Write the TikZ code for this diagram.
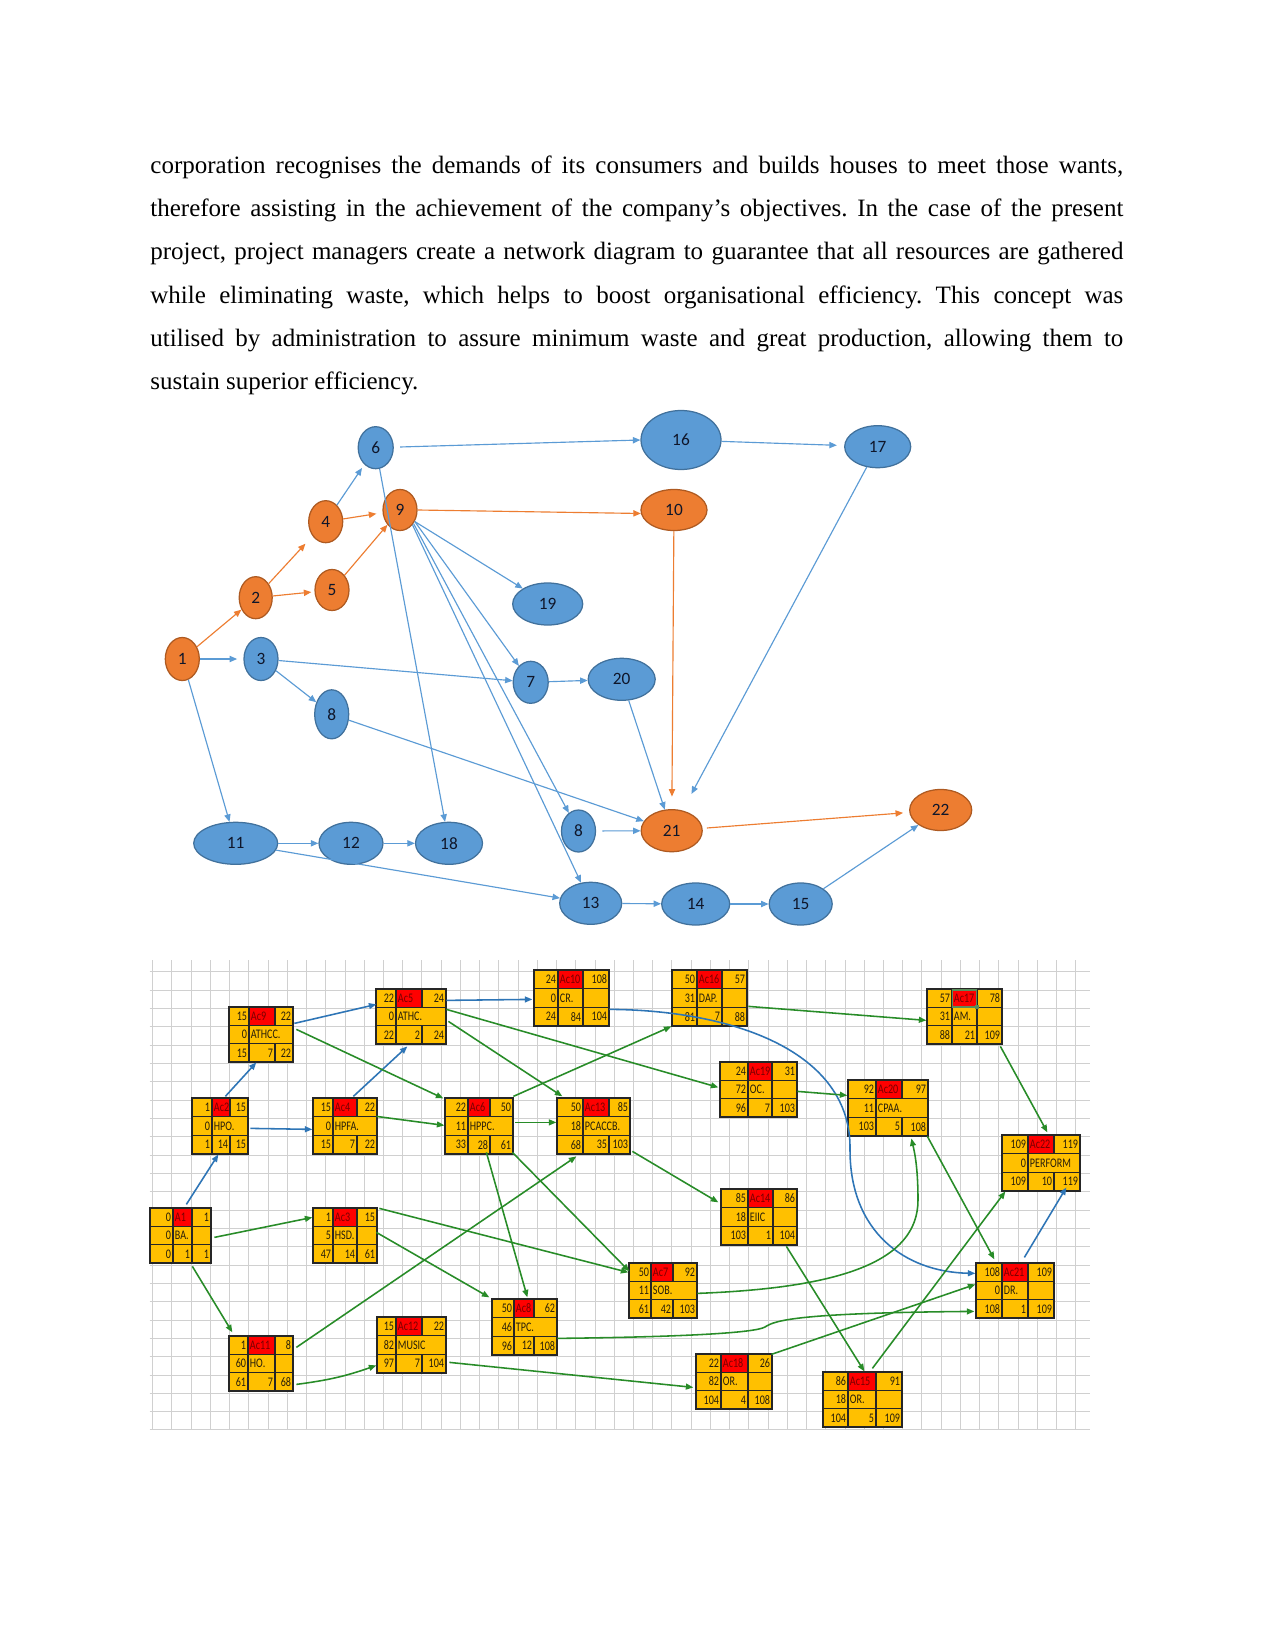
\documentclass[tikz,border=0pt]{standalone}
\usepackage{fontspec}
\usepackage{graphicx}
\setmainfont{Liberation Serif}
\newfontfamily\calib{Carlito}
\usetikzlibrary{shapes.geometric,arrows.meta,fit,calc}
\definecolor{nbf}{RGB}{91,155,213}
\definecolor{nbb}{RGB}{65,113,156}
\definecolor{nof}{RGB}{237,125,49}
\definecolor{nob}{RGB}{174,90,33}
\definecolor{ntext}{RGB}{15,22,42}
\definecolor{eblue}{RGB}{91,155,213}
\definecolor{eorange}{RGB}{237,125,49}
\definecolor{gblue}{RGB}{46,117,182}
\definecolor{ggreen}{RGB}{40,140,40}
\definecolor{cellfill}{RGB}{255,192,0}
\definecolor{cellred}{RGB}{255,0,0}
\definecolor{celltext}{RGB}{40,30,10}
\definecolor{redtext}{RGB}{120,0,0}
\definecolor{gridc}{RGB}{208,208,208}
\definecolor{selc}{RGB}{90,140,90}
\newcommand\netf{\fontsize{8.3}{9}\calib}
\newcommand\cellf{\fontsize{6.3}{7}\calib}
\newcommand\sq[1]{\scalebox{0.77}[1]{#1}}
\tikzset{
  sz/.style 2 args={minimum width=#1*0.48pt, minimum height=#2*0.48pt},
  nb/.style={ellipse, draw=nbb, fill=nbf, line width=0.6pt, inner sep=0pt, font=\netf, text=ntext},
  no/.style={ellipse, draw=nob, fill=nof, line width=0.6pt, inner sep=0pt, font=\netf, text=ntext},
  eb/.style={draw=eblue, line width=0.55pt, -{Triangle[length=3.6pt,width=3pt]}},
  eo/.style={draw=eorange, line width=0.55pt, -{Triangle[length=3.6pt,width=3pt]}},
  gridl/.style={draw=gridc, line width=0.45pt},
  cellline/.style={draw=black!85, line width=0.6pt},
  nr/.style={anchor=east, inner sep=0pt, font=\cellf, text=celltext},
  nl/.style={anchor=west, inner sep=0pt, font=\cellf, text=celltext},
  nred/.style={anchor=west, inner sep=0pt, font=\cellf, text=redtext},
  ga/.style={draw=ggreen, line width=0.75pt, -{Triangle[length=3.6pt,width=2.8pt]}},
  ba/.style={draw=gblue, line width=0.75pt, -{Triangle[length=3.6pt,width=2.8pt]}},
  para/.style={anchor=base west, inner sep=0pt, font=\fontsize{12}{14}\selectfont\frenchspacing}
}
% box geometry: name, x0, c1, c2, x3, y0, y3, split middle row (1/0)
\newcommand\abox[8]{%
  \def\xa{#2}\def\xb{#3}\def\xc{#4}\def\xd{#5}\def\ya{#6}\def\yd{#7}%
  \pgfmathsetmacro\ra{#6+(#7-#6)/3}%
  \pgfmathsetmacro\rb{#6+2*(#7-#6)/3}%
  \fill[cellfill] (#2,#6) rectangle (#5,#7);
  \fill[cellred] (#3,#6) rectangle (#4,\ra);
  \draw[cellline] (#2,\ra) -- (#5,\ra) (#2,\rb) -- (#5,\rb) (#3,#6) -- (#3,#7)
        (#4,#6) -- (#4,\ra) (#4,\rb) -- (#4,#7);
  \ifnum#8=1 \draw[cellline] (#4,\ra) -- (#4,\rb);\fi
  \node[fit={(#2,#6) (#5,#7)}, inner sep=0pt, cellline] (#1) {};
}
% texts: TL TM TR ML MM BL BM BR
\newcommand\atx[8]{%
  \pgfmathsetmacro\ma{(\ya+\ra)/2}%
  \pgfmathsetmacro\mb{(\ra+\rb)/2}%
  \pgfmathsetmacro\mc{(\rb+\yd)/2}%
  \node[nr] at ({\xb-1.5},\ma) {\sq{#1}};
  \node[nred] at ({\xb+1.5},\ma) {\sq{#2}};
  \node[nr] at ({\xd-1.5},\ma) {\sq{#3}};
  \node[nr] at ({\xb-1.5},\mb) {\sq{#4}};
  \node[nl] at ({\xb+1.5},\mb) {\sq{#5}};
  \node[nr] at ({\xb-1.5},\mc) {\sq{#6}};
  \node[nr] at ({\xc-1.5},\mc) {\sq{#7}};
  \node[nr] at ({\xd-1.5},\mc) {\sq{#8}};
}
\begin{document}
\begin{tikzpicture}[x=0.48pt,y=-0.48pt]
\useasboundingbox[fill=white] (0,0) rectangle (1275,1651);

% ---------- paragraph ----------
\node[para] (t1) at (150,173.7) {\makebox[467pt][s]{corporation recognises the demands of its consumers and builds houses to meet those wants,}};
\node[para] (t2) at (150,216.8) {\makebox[467pt][s]{therefore assisting in the achievement of the company's objectives. In the case of the present}};
\node[para] (t3) at (150,259.9) {\makebox[467pt][s]{project, project managers create a network diagram to guarantee that all resources are gathered}};
\node[para] (t4) at (150,303) {\makebox[467pt][s]{while eliminating waste, which helps to boost organisational efficiency. This concept was}};
\node[para] (t5) at (150,346.1) {\makebox[467pt][s]{utilised by administration to assure minimum waste and great production, allowing them to}};
\node[para] (t6) at (150,389) {sustain superior efficiency.};

% ---------- network diagram ----------
\node[no, sz={34}{43}] (n1) at (182.3,659) {1};
\node[no, sz={33}{42}] (n2) at (255.7,597.7) {2};
\node[nb, sz={34}{43}] (n3) at (261,659) {3};
\node[no, sz={34}{42}] (n4) at (325.7,521.7) {4};
\node[no, sz={34}{41}] (n5) at (332,590) {5};
\node[nb, sz={35}{42}] (n6) at (375.7,447.7) {6};
\node[no, sz={34}{41}] (n9) at (400,510) {9};
\node[nb, sz={80}{59}] (n16) at (681,440) {16};
\node[no, sz={66}{41}] (n10) at (674,510) {10};
\node[nb, sz={66}{42}] (n17) at (877.7,446.7) {17};
\node[nb, sz={70}{42}] (n19) at (547.7,604) {19};
\node[nb, sz={35}{42}] (n7) at (530.7,682.3) {7};
\node[nb, sz={67}{42}] (n20) at (621.7,679.3) {20};
\node[nb, sz={34}{49}] (n8a) at (331.7,714.3) {8};
\node[nb, sz={84}{42}] (n11) at (235.7,843.3) {11};
\node[nb, sz={64}{42}] (n12) at (351,843.3) {12};
\node[nb, sz={67}{42}] (n18) at (449,843.3) {18};
\node[nb, sz={34}{42}] (n8b) at (578.5,831) {8};
\node[no, sz={61}{42}] (n21) at (671.7,830.7) {21};
\node[no, sz={62}{41}] (n22) at (940.7,810) {22};
\node[nb, sz={62}{42}] (n13) at (590.7,903.3) {13};
\node[nb, sz={68}{42}] (n14) at (695.7,904) {14};
\node[nb, sz={63}{42}] (n15) at (800.7,904) {15};

\draw[eo] (n1) -- (n2);
\draw[eo, shorten >=5pt] (n2) -- (n4);
\draw[eo, shorten >=1.5pt] (n2) -- (n5);
\draw[eo, shorten >=3pt] (n4) -- (n9);
\draw[eo] (n5) -- (n9);
\draw[eo] (n9.east) -- (n10.186);
\draw[eo, shorten >=6pt] (n10) -- (n21);
\draw[eo, shorten <=2pt, shorten >=3pt] (n21) -- (n22);

\draw[eb, shorten >=3pt] (n1) -- (n3);
\draw[eb] (n1) -- (n11);
\draw[eb, shorten >=2pt] (n4) -- (n6);
\draw[eb, shorten <=3pt] (n6) -- (n16.west);
\draw[eb] (n6) -- (n18);
\draw[eb, shorten >=3.5pt] (n16) -- (n17);
\draw[eb, shorten >=9pt] (n17) -- (n21);
\draw[eb] (n9.-38) -- (n19);
\draw[eb] (n9.-38) -- (n7);
\draw[eb] (n9.-45) -- (n8b);
\draw[eb] (n9.-50) -- (n13);
\draw[eb] (n3) -- (n7);
\draw[eb] (n3) -- (n8a);
\draw[eb] (n8a) -- (n21);
\draw[eb] (n7) -- (n20);
\draw[eb] (n20) -- (n21);
\draw[eb, shorten <=3pt] (n8b) -- (n21);
\draw[eb] (n11) -- (n12);
\draw[eb] (n12) -- (n18);
\draw[eb] (n11) -- (n13);
\draw[eb] (n13) -- (n14);
\draw[eb] (n14) -- (n15);
\draw[eb] (n15) -- (n22);

% ---------- grid ----------
\foreach \i in {0,...,48} \draw[gridl] ({152.7+\i*19.23},960) -- ({152.7+\i*19.23},1430);
\foreach \j in {0,...,25} \draw[gridl] (149.5,{971.7+\j*18.33}) -- (1090,{971.7+\j*18.33});

% ---------- activity boxes ----------
\abox{a1}{150}{173}{192}{211}{1208}{1263}{1}\atx{0}{A1}{1}{0}{BA.}{0}{1}{1}
\abox{ac2}{192}{212}{230}{248}{1098}{1154}{0}\atx{1}{Ac2}{15}{0}{HPO.}{1}{14}{15}
\abox{ac9}{229}{249}{275}{293}{1007}{1062}{0}\atx{15}{Ac9}{22}{0}{ATHCC.}{15}{7}{22}
\abox{ac4}{313}{333}{357}{377}{1098}{1154}{0}\atx{15}{Ac4}{22}{0}{HPFA.}{15}{7}{22}
\abox{ac3}{313}{333}{357}{377}{1208}{1263}{1}\atx{1}{Ac3}{15}{5}{HSD.}{47}{14}{61}
\abox{ac5}{376}{396}{422}{446}{989}{1044}{0}\atx{22}{Ac5}{24}{0}{ATHC.}{22}{2}{24}
\abox{ac11}{229}{248}{275}{293}{1336}{1391}{1}\atx{1}{Ac11}{8}{60}{HO.}{61}{7}{68}
\abox{ac12}{377}{396}{422}{446}{1317}{1373}{0}\atx{15}{Ac12}{22}{82}{MUSIC}{97}{7}{104}
\abox{ac6}{445}{468}{490}{513}{1098}{1154}{0}\atx{22}{Ac6}{50}{11}{HPPC.}{33}{28}{61}
\abox{ac8}{492}{514}{534}{557}{1299}{1355}{0}\atx{50}{Ac8}{62}{46}{TPC.}{96}{12}{108}
\abox{ac10}{534}{558}{583}{609}{970}{1026}{1}\atx{24}{Ac10}{108}{0}{CR.}{24}{84}{104}
\abox{ac13}{557}{583}{609}{630}{1098}{1154}{0}\atx{50}{Ac13}{85}{18}{PCACCB.}{68}{35}{103}
\abox{ac7}{629}{651}{673}{697}{1263}{1318}{0}\atx{50}{Ac7}{92}{11}{SOB.}{61}{42}{103}
\abox{ac16}{672}{697}{722}{747}{970}{1026}{1}\atx{50}{Ac16}{57}{31}{DAP.}{81}{7}{88}
\abox{ac19}{720}{748}{772}{797}{1062}{1117}{1}\atx{24}{Ac19}{31}{72}{OC.}{96}{7}{103}
\abox{ac14}{721}{748}{773}{797}{1189}{1245}{1}\atx{85}{Ac14}{86}{18}{EIIC}{103}{1}{104}
\abox{ac18}{696}{721}{748}{772}{1354}{1409}{1}\atx{22}{Ac18}{26}{82}{OR.}{104}{4}{108}
\abox{ac20}{848}{876}{902}{928}{1080}{1136}{0}\atx{92}{Ac20}{97}{11}{CPAA.}{103}{5}{108}
\abox{ac15}{823}{848}{876}{902}{1372}{1427}{1}\atx{86}{Ac15}{91}{18}{OR.}{104}{5}{109}
\abox{ac17}{927}{952}{977}{1002}{989}{1044}{1}\atx{57}{Ac17}{78}{31}{AM.}{88}{21}{109}
\abox{ac22}{1002}{1028}{1054}{1080}{1135}{1191}{0}\atx{109}{Ac22}{119}{0}{PERFORM}{109}{10}{119}
\abox{ac21}{976}{1002}{1028}{1054}{1263}{1318}{1}\atx{108}{Ac21}{109}{0}{DR.}{108}{1}{109}
% selected cell outline
\draw[draw=selc, line width=0.7pt] (952.5,990) rectangle (976.5,1007);
\fill[selc] (975,1005) rectangle (979,1009);

% ---------- blue connectors ----------
\draw[ba] ($(a1.north west)+(37,-3)$) -- ($(ac2.north west)+(27,57)$);
\draw[ba] ($(ac2.north west)+(34,-1)$) -- ($(ac9.north west)+(28,56)$);
\draw[ba] ($(ac2.north west)+(59,31)$) -- ($(ac4.north west)+(0,32)$);
\draw[ba] ($(ac4.north west)+(41,-1)$) -- ($(ac5.north west)+(32,58)$);
\draw[ba] ($(ac9.north west)+(66,17)$) -- ($(ac5.north west)+(1,16)$);
\draw[ba] ($(ac5.north west)+(71,12)$) -- ($(ac10.north west)+(-1,30)$);
\draw[ba] ($(ac10.north west)+(76,40)$) .. controls (730,1010) and (852,1050) .. (850,1150)
          .. controls (850,1232) and (905,1272) .. ($(ac21.north west)+(0,11)$);
\draw[ba] ($(ac21.north west)+(49,-5)$) -- ($(ac22.north west)+(65,53)$);

% ---------- green connectors ----------
\draw[ga] ($(a1.north west)+(65,30)$) -- ($(ac3.north west)+(0,10)$);
\draw[ga] ($(a1.north west)+(43,59)$) -- ($(ac11.north west)+(4,-3)$);
\draw[ga] ($(ac9.north west)+(68,23)$) -- ($(ac6.north west)+(-1,1)$);
\draw[ga] ($(ac4.north west)+(64,19)$) -- ($(ac6.north west)+(0,28)$);
\draw[ga] ($(ac5.north west)+(73,33)$) -- ($(ac13.north west)+(6,-1)$);
\draw[ga] ($(ac5.north west)+(71,21)$) -- ($(ac19.north west)+(-1,26)$);
\draw[ga] ($(ac6.north west)+(69,-1)$) -- ($(ac16.north west)+(0,57)$);
\draw[ga] ($(ac6.north west)+(71,25)$) -- ($(ac13.north west)+(0,25)$);
\draw[ga] ($(ac6.north west)+(42,55)$) -- ($(ac8.north west)+(36,-1)$);
\draw[ga] ($(ac6.north west)+(68,55)$) -- ($(ac7.north west)+(1,9)$);
\draw[ga] ($(ac13.north west)+(76,54)$) -- ($(ac14.north west)+(-2,14)$);
\draw[ga] ($(ac11.north west)+(68,12)$) -- ($(ac13.north west)+(20,59)$);
\draw[ga] ($(ac11.north west)+(68,49)$) to[bend right=6] ($(ac12.north west)+(0,49)$);
\draw[ga] ($(ac3.north west)+(67,1)$) -- ($(ac7.north west)+(0,10)$);
\draw[ga] ($(ac3.north west)+(64,25)$) -- ($(ac8.north west)+(-2,-1)$);
\draw[ga] ($(ac16.north west)+(77,37)$) -- ($(ac17.north west)+(0,32)$);
\draw[ga] ($(ac19.north west)+(78,30)$) -- ($(ac20.north west)+(0,16)$);
\draw[ga] ($(ac17.north west)+(74,58)$) -- ($(ac22.north west)+(46,-2)$);
\draw[ga] ($(ac20.north west)+(80,57)$) -- ($(ac21.north west)+(19,-3)$);
\draw[ga] ($(ac7.north west)+(69,31)$) .. controls (840,1288) and (918,1262) .. (918,1200)
          .. controls (918,1165) and (914,1150) .. ($(ac20.north west)+(64,59)$);
\draw[ga] ($(ac8.north west)+(66,40)$) .. controls (680,1337) and (755,1333) .. (765,1327)
          .. controls (775,1320) and (800,1313) .. ($(ac21.north west)+(-1,49)$);
\draw[ga] ($(ac12.north west)+(73,46)$) -- ($(ac18.north west)+(-2,34)$);
\draw[ga] ($(ac18.north west)+(76,1)$) -- ($(ac21.north west)+(0,22)$);
\draw[ga] ($(ac14.north west)+(66,58)$) -- ($(ac15.north west)+(42,0)$);
\draw[ga] ($(ac15.north west)+(50,-3)$) -- ($(ac22.north west)+(4,57)$);
\end{tikzpicture}
\end{document}
